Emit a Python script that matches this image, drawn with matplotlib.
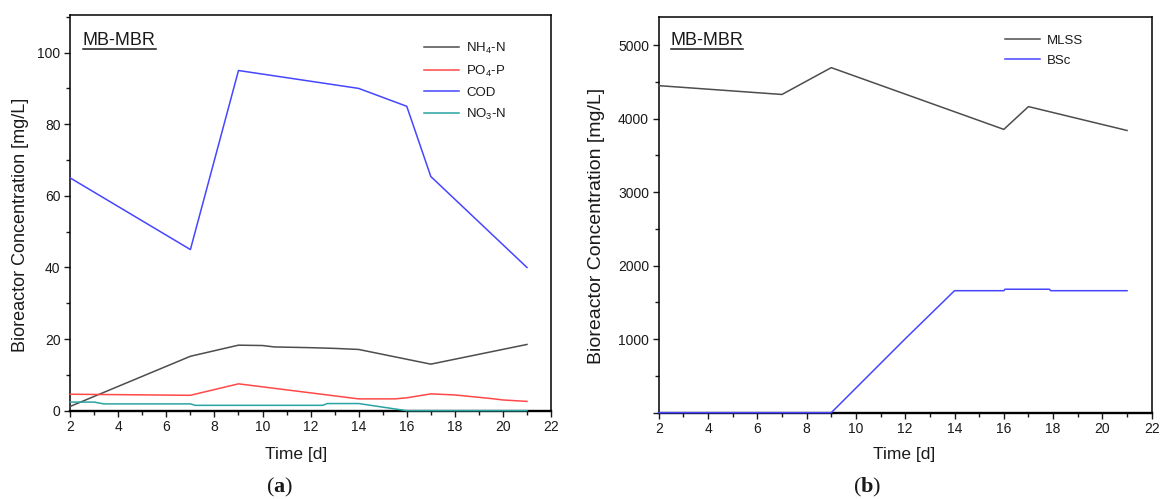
import matplotlib
matplotlib.use('Agg')
import matplotlib.pyplot as plt
import matplotlib.ticker as ticker
from matplotlib.lines import Line2D

plt.rcParams['font.family'] = ['Liberation Sans', 'DejaVu Sans']
plt.rcParams['mathtext.fontset'] = 'custom'
plt.rcParams['mathtext.rm'] = 'Liberation Sans'
plt.rcParams['mathtext.it'] = 'Liberation Sans:italic'
plt.rcParams['mathtext.bf'] = 'Liberation Serif:bold'

# (a) nutrientes / COD no bioreator
nh4_t = [2, 7, 9, 10, 10.5, 12, 13, 14, 17, 21]
nh4 = [1.2, 15.2, 18.3, 18.2, 17.8, 17.6, 17.4, 17.1, 13.0, 18.5]

po4_t = [2, 7, 9, 14, 15.5, 16, 17, 18, 19.5, 20, 21]
po4 = [4.6, 4.3, 7.5, 3.3, 3.3, 3.6, 4.7, 4.4, 3.4, 3.0, 2.6]

cod_t = [2, 7, 9, 14, 16, 17, 21]
cod = [65, 45, 95, 90, 85, 65.4, 40]

no3_t = [2, 3, 3.4, 7.0, 7.2, 12.5, 12.7, 14, 15, 15.7, 16, 21]
no3 = [2.4, 2.4, 1.9, 1.9, 1.5, 1.5, 2.0, 2.0, 1.0, 0.3, 0, 0]

# (b) solidos
mlss_t = [2, 7, 9, 14, 16, 17, 21]
mlss = [4450, 4330, 4695, 4095, 3855, 4165, 3840]

bsc_t = [2, 9, 12, 14, 16, 16.05, 17.85, 17.9, 21]
bsc = [0, 0, 1005, 1660, 1660, 1680, 1680, 1660, 1660]

W, H = 1160, 499
fig = plt.figure(figsize=(W / 100, H / 100), dpi=100)

ax1 = fig.add_axes([70.2 / W, (H - 410.7) / H, 480.8 / W, 395.7 / H])
ax2 = fig.add_axes([658.7 / W, (H - 412.7) / H, 493.0 / W, 395.4 / H])

cor_texto = '#1a1a1a'


def estilo_eixos(ax):
    for lado in ['top', 'right', 'left']:
        ax.spines[lado].set_linewidth(1.1)
    ax.spines['bottom'].set_linewidth(1.7)
    ax.tick_params(which='major', direction='out', length=4.5, width=1.0,
                   labelsize=10, pad=2.5, colors=cor_texto)
    ax.tick_params(which='minor', direction='out', length=2.8, width=1.0,
                   colors=cor_texto)
    ax.set_xlim(2, 22)
    ax.xaxis.set_major_locator(ticker.MultipleLocator(2))
    ax.xaxis.set_minor_locator(ticker.MultipleLocator(1))


lw = 1.1
ax1.plot(nh4_t, nh4, color='#4d4d4d', lw=lw, label='NH$_4$-N', zorder=3, clip_on=False)
ax1.plot(po4_t, po4, color='#ff4848', lw=lw, label='PO$_4$-P', zorder=3, clip_on=False)
ax1.plot(cod_t, cod, color='#4646ff', lw=lw, label='COD', zorder=3, clip_on=False)
ax1.plot(no3_t, no3, color='#2aa3a3', lw=lw, label='NO$_3$-N', zorder=3, clip_on=False)
estilo_eixos(ax1)
ax1.set_ylim(0, 110.5)
ax1.yaxis.set_major_locator(ticker.MultipleLocator(20))
ax1.yaxis.set_minor_locator(ticker.MultipleLocator(10))

ax2.plot(mlss_t, mlss, color='#4d4d4d', lw=lw, label='MLSS', zorder=3, clip_on=False)
ax2.plot(bsc_t, bsc, color='#4646ff', lw=lw, label='BSc', zorder=3, clip_on=False)
estilo_eixos(ax2)
ax2.set_ylim(0, 5380)
ax2.set_yticks([0, 1000, 2000, 3000, 4000, 5000])
ax2.set_yticklabels(['', '1000', '2000', '3000', '4000', '5000'])
ax2.yaxis.set_minor_locator(ticker.MultipleLocator(500))

fs_leg = 9.5
fs_px = fs_leg * 100 / 72
for ax, ancora in [(ax1, (0.7365, 0.934)), (ax2, (0.702, 0.956))]:
    leg = ax.legend(loc='upper left', bbox_to_anchor=ancora, frameon=False,
                    fontsize=fs_leg, borderaxespad=0, borderpad=0,
                    handlelength=35 / fs_px, handletextpad=0.5, labelspacing=0.58)
    for t in leg.get_texts():
        t.set_color(cor_texto)

# titulo sublinhado dentro de cada painel
titulos = [ax1.text(0.026, 0.924, 'MB-MBR', transform=ax1.transAxes, fontsize=13,
                    va='baseline', ha='left', color=cor_texto),
           ax2.text(0.024, 0.930, 'MB-MBR', transform=ax2.transAxes, fontsize=13,
                    va='baseline', ha='left', color=cor_texto)]

for x, y, fs in [(20.8, 225.0, 13), (596.5, 226.0, 14)]:
    fig.text(x / W, 1 - y / H, 'Bioreactor Concentration [mg/L]', rotation=90,
             ha='center', va='center', fontsize=fs, color=cor_texto)
for x in [296.5, 904.6]:
    fig.text(x / W, 1 - 454 / H, 'Time [d]', ha='center', va='center',
             fontsize=12.5, color=cor_texto)

for x, letra in [(280, 'a'), (867, 'b')]:
    fig.text(x / W, 1 - 487 / H, '($\\mathbf{%s}$)' % letra, ha='center', va='center',
             fontsize=16, family='Liberation Serif', color=cor_texto)

fig.canvas.draw()
renderer = fig.canvas.get_renderer()
for t in titulos:
    bb = t.get_window_extent(renderer)
    base = t.get_transform().transform(t.get_position())[1]
    y_lin = (base - 4) / fig.bbox.height
    fig.add_artist(Line2D([bb.x0 / fig.bbox.width, bb.x1 / fig.bbox.width], [y_lin, y_lin],
                          transform=fig.transFigure, color=cor_texto, lw=1.1))

fig.savefig('out.png', dpi=100, facecolor='white')
